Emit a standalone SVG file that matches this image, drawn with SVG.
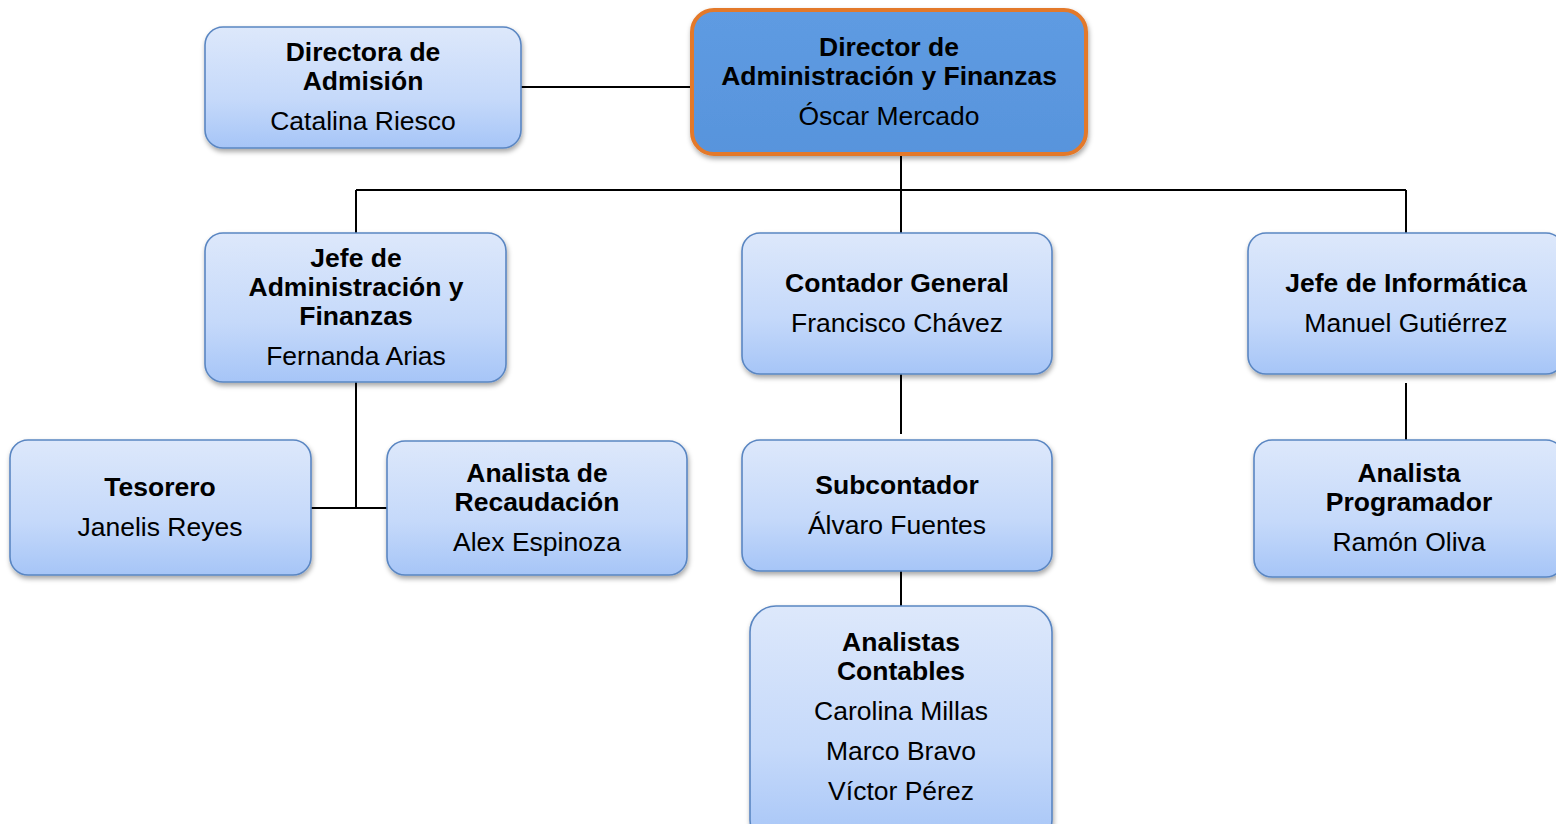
<svg xmlns="http://www.w3.org/2000/svg" width="1556" height="824" viewBox="0 0 1556 824">
<defs>
<linearGradient id="g" x1="0" y1="0" x2="0" y2="1">
<stop offset="0" stop-color="#DDE8FB"/>
<stop offset="0.6" stop-color="#C5D9FA"/>
<stop offset="1" stop-color="#A6C5F7"/>
</linearGradient>
<linearGradient id="gd" x1="0" y1="0" x2="0" y2="1">
<stop offset="0" stop-color="#5E9BE2"/>
<stop offset="1" stop-color="#5894DC"/>
</linearGradient>
<filter id="sh" x="-10%" y="-10%" width="120%" height="130%">
<feDropShadow dx="1" dy="3" stdDeviation="2.5" flood-color="#000" flood-opacity="0.35"/>
</filter>
<style>
.box{fill:url(#g);stroke:#5A86C2;stroke-width:1.6;filter:url(#sh)}
.top{fill:url(#gd);stroke:#E3792A;stroke-width:4;filter:url(#sh)}
.t{font-family:"Liberation Sans",Arial,sans-serif;font-size:26.5px;font-weight:bold;fill:#000;text-anchor:middle}
.n{font-family:"Liberation Sans",Arial,sans-serif;font-size:26.5px;fill:#000;text-anchor:middle}
.c{stroke:#000;stroke-width:2;fill:none}
</style>
</defs>
<g id="connectors">
<path class="c" d="M521,87 H692"/>
<path class="c" d="M901,155 V233"/>
<path class="c" d="M356,190 H1406"/>
<path class="c" d="M356,190 V233"/>
<path class="c" d="M1406,190 V233"/>
<path class="c" d="M901,374 V434"/>
<path class="c" d="M901,571 V606"/>
<path class="c" d="M1406,383 V440"/>
<path class="c" d="M356,382 V508"/>
<path class="c" d="M311,508 H387"/>
</g>
<g id="director">
<rect class="top" x="692" y="10" width="394" height="144" rx="22"/>
<text class="t" x="889" y="56">Director de</text>
<text class="t" x="889" y="85">Administración y Finanzas</text>
<text class="n" x="889" y="125">Óscar Mercado</text>
</g>
<g id="directora">
<rect class="box" x="205" y="27" width="316" height="121" rx="18"/>
<text class="t" x="363" y="61">Directora de</text>
<text class="t" x="363" y="90">Admisión</text>
<text class="n" x="363" y="130">Catalina Riesco</text>
</g>
<g id="jefe-admin">
<rect class="box" x="205" y="233" width="301" height="149" rx="18"/>
<text class="t" x="356" y="267">Jefe de</text>
<text class="t" x="356" y="296">Administración y</text>
<text class="t" x="356" y="325">Finanzas</text>
<text class="n" x="356" y="365">Fernanda Arias</text>
</g>
<g id="contador">
<rect class="box" x="742" y="233" width="310" height="141" rx="18"/>
<text class="t" x="897" y="292">Contador General</text>
<text class="n" x="897" y="332">Francisco Chávez</text>
</g>
<g id="jefe-info">
<rect class="box" x="1248" y="233" width="316" height="141" rx="18"/>
<text class="t" x="1406" y="292">Jefe de Informática</text>
<text class="n" x="1406" y="332">Manuel Gutiérrez</text>
</g>
<g id="tesorero">
<rect class="box" x="10" y="440" width="301" height="135" rx="18"/>
<text class="t" x="160" y="496">Tesorero</text>
<text class="n" x="160" y="536">Janelis Reyes</text>
</g>
<g id="recaudacion">
<rect class="box" x="387" y="441" width="300" height="134" rx="18"/>
<text class="t" x="537" y="482">Analista de</text>
<text class="t" x="537" y="511">Recaudación</text>
<text class="n" x="537" y="551">Alex Espinoza</text>
</g>
<g id="subcontador">
<rect class="box" x="742" y="440" width="310" height="131" rx="18"/>
<text class="t" x="897" y="494">Subcontador</text>
<text class="n" x="897" y="534">Álvaro Fuentes</text>
</g>
<g id="programador">
<rect class="box" x="1254" y="440" width="310" height="137" rx="18"/>
<text class="t" x="1409" y="482">Analista</text>
<text class="t" x="1409" y="511">Programador</text>
<text class="n" x="1409" y="551">Ramón Oliva</text>
</g>
<g id="contables">
<rect class="box" x="750" y="606" width="302" height="240" rx="26"/>
<text class="t" x="901" y="651">Analistas</text>
<text class="t" x="901" y="680">Contables</text>
<text class="n" x="901" y="720">Carolina Millas</text>
<text class="n" x="901" y="760">Marco Bravo</text>
<text class="n" x="901" y="800">Víctor Pérez</text>
</g>
</svg>
